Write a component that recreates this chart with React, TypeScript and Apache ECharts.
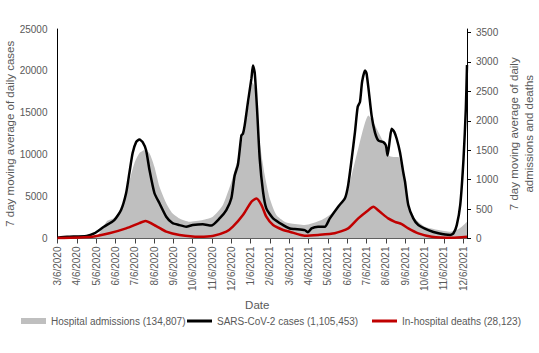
import React, { useEffect, useRef } from "react";
import * as echarts from "echarts";

// x = months since 3/6/2020
const xTickLabels = [
  "3/6/2020", "4/6/2020", "5/6/2020", "6/6/2020", "7/6/2020", "8/6/2020",
  "9/6/2020", "10/6/2020", "11/6/2020", "12/6/2020", "1/6/2021", "2/6/2021",
  "3/6/2021", "4/6/2021", "5/6/2021", "6/6/2021", "7/6/2021", "8/6/2021",
  "9/6/2021", "10/6/2021", "11/6/2021", "12/6/2021",
];

const leftTicks = [0, 5000, 10000, 15000, 20000, 25000];
const rightTicks = [0, 500, 1000, 1500, 2000, 2500, 3000, 3500];

const seriesNames = [
  "Hospital admissions (134,807)",
  "SARS-CoV-2 cases (1,105,453)",
  "In-hospital deaths (28,123)",
];

const casesData = [
  [0, 100], [0.5, 200], [1.5, 300], [1.9, 600], [2.4, 1400], [2.94, 2200], [3.29, 3400],
  [3.55, 5400], [3.72, 7800], [3.89, 10200], [4.07, 11500], [4.24, 11800], [4.41, 11500],
  [4.59, 10500], [4.76, 8200], [5.02, 5400], [5.28, 4200], [5.63, 2600], [5.95, 1850],
  [6.31, 1600], [6.66, 1400], [7.0, 1600], [7.52, 1700], [7.96, 1550], [8.39, 2400],
  [8.74, 3400], [9.0, 4800], [9.17, 7500], [9.34, 8800], [9.52, 12300], [9.6, 12500],
  [9.69, 13500], [9.86, 16300], [10.04, 19100], [10.12, 20650], [10.21, 19800],
  [10.33, 15500], [10.47, 9500], [10.64, 5600], [10.81, 3600], [11.16, 2400],
  [11.68, 1600], [12.02, 1200], [12.28, 1130], [12.8, 1000], [12.97, 750], [13.15, 1200],
  [13.49, 1400], [13.84, 1400], [14.1, 2400], [14.53, 3800], [14.88, 4800], [15.05, 6400],
  [15.23, 9500], [15.4, 12700], [15.54, 15700], [15.66, 16300], [15.77, 18700],
  [15.92, 20050], [16.0, 19700], [16.12, 17500], [16.26, 14700], [16.43, 12700],
  [16.61, 11700], [16.87, 11500], [17.0, 11100], [17.09, 9900], [17.21, 11900],
  [17.3, 13100], [17.44, 12700], [17.56, 11900], [17.73, 10300], [17.9, 7900],
  [17.99, 6800], [18.16, 4000], [18.42, 2400], [18.68, 1600], [19.2, 1000], [19.72, 620],
  [20.33, 420], [20.5, 620], [20.67, 1600], [20.85, 4000], [21.02, 9500], [21.14, 15500],
  [21.2, 20700],
];

const admissionsData = [
  [0, 10], [1.54, 26], [2.06, 50], [2.58, 300], [2.94, 350], [3.29, 500], [3.55, 770],
  [3.98, 1280], [4.24, 1450], [4.49, 1500], [4.76, 1450], [5.02, 1215], [5.28, 880],
  [5.63, 600], [5.95, 430], [6.32, 340], [6.83, 285], [7.52, 315], [8.04, 370],
  [8.56, 570], [9.0, 960], [9.34, 1360], [9.69, 1870], [9.95, 2375], [10.1, 2650],
  [10.26, 2515], [10.47, 1640], [10.73, 1075], [10.99, 680], [11.33, 400], [11.76, 285],
  [12.02, 260], [12.8, 230], [13.67, 315], [14.19, 425], [14.71, 595], [15.05, 850],
  [15.31, 1190], [15.57, 1530], [15.83, 1865], [16.09, 2090], [16.35, 1980], [16.61, 1810],
  [16.87, 1640], [17.12, 1415], [17.38, 1385], [17.64, 1385], [17.9, 1120], [18.16, 570],
  [18.51, 340], [19.03, 200], [19.72, 145], [20.33, 115], [20.67, 145], [20.93, 200],
  [21.2, 285],
];

const deathsData = [
  [0, 8], [1.8, 30], [2.68, 88], [3.55, 172], [4.24, 262], [4.55, 296], [5.11, 212],
  [5.63, 116], [6.32, 60], [7.35, 30], [8.03, 42], [8.74, 116], [9.08, 200], [9.6, 398],
  [10.04, 624], [10.3, 680], [10.56, 568], [10.81, 370], [11.16, 228], [11.68, 144],
  [12.02, 116], [12.8, 48], [13.49, 60], [14.35, 88], [15.05, 172], [15.57, 342],
  [16.09, 482], [16.35, 538], [16.69, 454], [17.12, 342], [17.47, 284], [17.82, 246],
  [18.16, 172], [18.68, 88], [19.38, 30], [20.42, 14], [21.2, 30],
];

const FONT = "Liberation Sans";
const TXT = "#595959";

export default function App() {
  const ref = useRef<HTMLDivElement>(null);
  useEffect(() => {
    if (!ref.current) return;
    const chart = echarts.init(ref.current, undefined, { renderer: "svg" });
    const xIdx = xTickLabels.map((_, i) => i);
    const legendBase = {
      top: 316, icon: "rect", itemWidth: 25, padding: 0,
      textStyle: { fontFamily: FONT, fontSize: 10, color: TXT },
    };
    chart.setOption({
      animation: false,
      backgroundColor: "#ffffff",
      textStyle: { fontFamily: FONT },
      grid: {
        left: 57.5, right: 72, top: 29, bottom: 114.5,
        containLabel: false, outerBoundsMode: "none",
      },
      legend: [
        { ...legendBase, data: [seriesNames[0]], left: 21, itemHeight: 6 },
        { ...legendBase, data: [seriesNames[1]], left: 187, itemHeight: 3 },
        { ...legendBase, data: [seriesNames[2]], left: 372, itemHeight: 3 },
      ],
      xAxis: {
        type: "value",
        min: 0,
        max: 21.2,
        interval: 1,
        name: "Date",
        nameLocation: "middle",
        nameGap: 60,
        nameMoveOverlap: false,
        nameTextStyle: { fontFamily: FONT, fontSize: 11.5, color: TXT, padding: [0, 10, 0, 0] },
        splitLine: { show: false },
        axisLine: { show: true, lineStyle: { color: "#404040", width: 1 } },
        axisTick: { show: true, inside: false, length: 5, lineStyle: { color: "#404040" }, customValues: xIdx },
        axisLabel: {
          rotate: 90,
          margin: 8,
          fontFamily: FONT,
          fontSize: 10,
          color: TXT,
          customValues: xIdx,
          formatter: (v: number) => {
            const r = Math.round(v);
            return Math.abs(v - r) < 1e-6 && xTickLabels[r] ? xTickLabels[r] : "";
          },
        },
      },
      yAxis: [
        {
          type: "value",
          min: leftTicks[0],
          max: leftTicks[leftTicks.length - 1],
          interval: 5000,
          name: "7 day moving average of daily cases",
          nameLocation: "middle",
          nameGap: 42,
          nameMoveOverlap: false,
          nameTextStyle: { fontFamily: FONT, fontSize: 11.5, color: TXT },
          splitLine: { show: false },
          axisLine: { show: true, lineStyle: { color: "#000000", width: 1 } },
          axisTick: { show: false },
          axisLabel: {
            margin: 10, fontFamily: FONT, fontSize: 10, color: TXT,
            formatter: (v: number) => String(v),
          },
        },
        {
          type: "value",
          position: "right",
          min: 0,
          max: 3560,
          interval: 500,
          name: "7 day moving average of daily\nadmissions and deaths",
          nameLocation: "middle",
          nameGap: 39,
          nameRotate: 90,
          nameMoveOverlap: false,
          nameTextStyle: { fontFamily: FONT, fontSize: 11.5, color: TXT, lineHeight: 15 },
          splitLine: { show: false },
          axisLine: { show: true, lineStyle: { color: "#000000", width: 1 } },
          axisTick: { show: true, inside: false, length: 4, lineStyle: { color: "#000000" }, customValues: rightTicks },
          axisLabel: {
            margin: 9, fontFamily: FONT, fontSize: 10, color: TXT,
            customValues: rightTicks,
            formatter: (v: number) => (v % 500 === 0 ? String(v) : ""),
          },
        },
      ],
      series: [
        {
          name: seriesNames[0],
          type: "line",
          yAxisIndex: 1,
          data: admissionsData,
          showSymbol: false,
          symbol: "none",
          smooth: 0.2,
          lineStyle: { width: 0, color: "#bfbfbf" },
          itemStyle: { color: "#bfbfbf" },
          areaStyle: { color: "#bfbfbf", opacity: 1 },
          z: 1,
        },
        {
          name: seriesNames[1],
          type: "line",
          yAxisIndex: 0,
          data: casesData,
          showSymbol: false,
          symbol: "none",
          smooth: 0.2,
          lineStyle: { width: 2.5, color: "#000000" },
          itemStyle: { color: "#000000" },
          z: 2,
        },
        {
          name: seriesNames[2],
          type: "line",
          yAxisIndex: 1,
          data: deathsData,
          showSymbol: false,
          symbol: "none",
          smooth: 0.2,
          lineStyle: { width: 2.5, color: "#c00000" },
          itemStyle: { color: "#c00000" },
          z: 3,
        },
      ],
    });
    return () => chart.dispose();
  }, []);
  return (
    <div
      ref={ref}
      style={{ position: "fixed", left: 0, top: 0, width: 539, height: 353, background: "#fff" }}
    />
  );
}
